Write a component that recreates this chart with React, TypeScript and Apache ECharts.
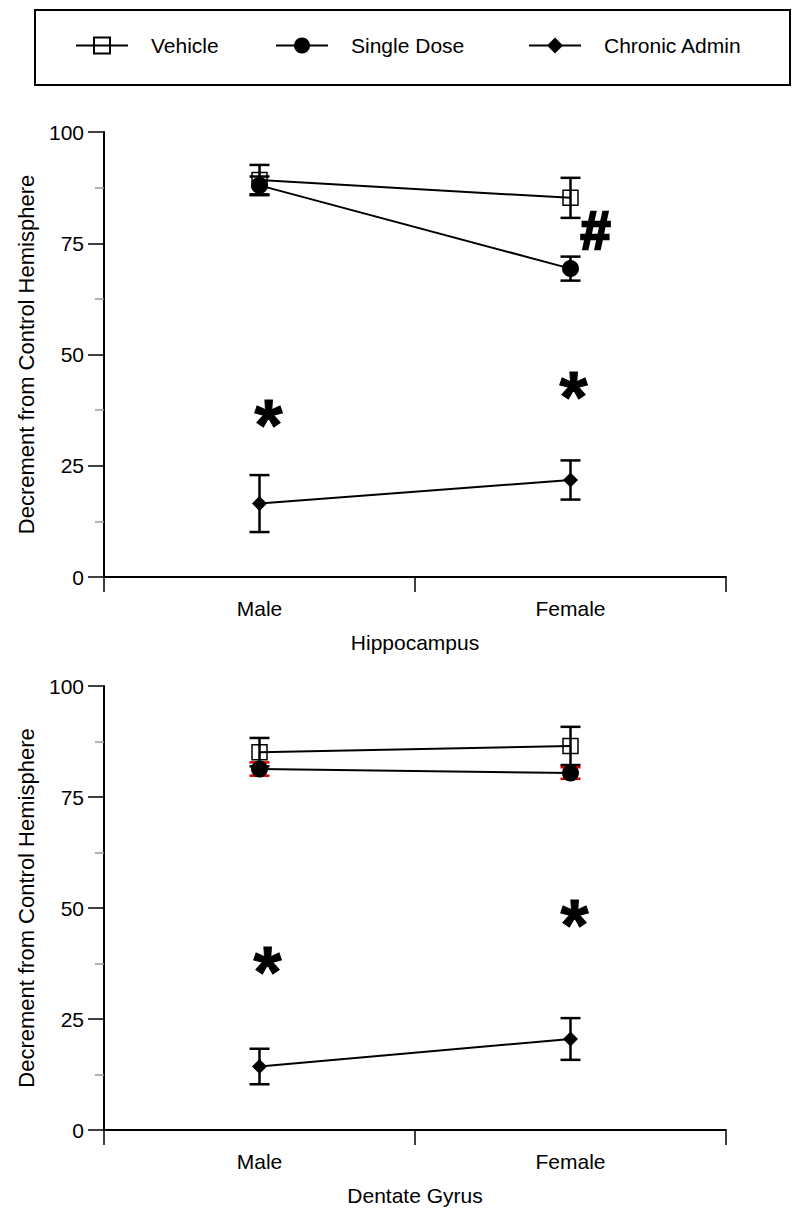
import React, { useEffect, useRef } from "react";
import * as echarts from "echarts";

const categories = ["Male", "Female"];
const seriesNames = ["Vehicle", "Single Dose", "Chronic Admin"];

// Hippocampus
const hipVehicle = [89.2, 85.2];
const hipVehicleErr = [3.4, 4.5];
const hipSingle = [88.0, 69.3];
const hipSingleErr = [2.0, 2.7];
const hipChronic = [16.5, 21.8];
const hipChronicErr = [6.4, 4.4];

// Dentate Gyrus
const dgVehicle = [85.1, 86.5];
const dgVehicleErr = [3.2, 4.3];
const dgSingle = [81.3, 80.4];
const dgSingleErr = [1.5, 1.3];
const dgChronic = [14.3, 20.5];
const dgChronicErr = [4.0, 4.7];

const yTicks = [0, 25, 50, 75, 100];

// significance marks: panel, category index, value, text
const annPanel = [0, 0, 0, 1, 1];
const annCategory = [0, 1, 1, 0, 1];
const annValue = [36.9, 43.1, 78.0, 38.3, 48.9];
const annText = ["*", "*", "#", "*", "*"];
// horizontal nudge of each mark (label style)
const annNudge = [9, 3, 25, 8, 4];

const FONT = "'Liberation Sans', Arial, Helvetica, sans-serif";

function errData(vals: number[], errs: number[]) {
  return vals.map((v, i) => [i, v - errs[i], v + errs[i]]);
}

function errSeries(grid: number, vals: number[], errs: number[], color: string) {
  return {
    type: "custom",
    xAxisIndex: grid,
    yAxisIndex: grid,
    z: 1,
    silent: true,
    data: errData(vals, errs),
    encode: { x: 0, y: [1, 2] },
    renderItem: (params: any, api: any) => {
      const x = api.value(0);
      const lo = api.value(1);
      const hi = api.value(2);
      const top = api.coord([x, hi]);
      const bot = api.coord([x, lo]);
      const w = 10;
      const st = { stroke: color, lineWidth: 2.5 };
      return {
        type: "group",
        children: [
          { type: "line", shape: { x1: top[0], y1: top[1], x2: bot[0], y2: bot[1] }, style: st },
          { type: "line", shape: { x1: top[0] - w, y1: top[1], x2: top[0] + w, y2: top[1] }, style: st },
          { type: "line", shape: { x1: bot[0] - w, y1: bot[1], x2: bot[0] + w, y2: bot[1] }, style: st },
        ],
      };
    },
  };
}

function annSeries(grid: number) {
  const data: any[] = [];
  annPanel.forEach((p, i) => {
    if (p === grid) data.push([annCategory[i], annValue[i], i]);
  });
  return {
    type: "custom",
    xAxisIndex: grid,
    yAxisIndex: grid,
    z: 10,
    silent: true,
    data,
    encode: { x: 0, y: 1 },
    renderItem: (params: any, api: any) => {
      const i = api.value(2);
      const pt = api.coord([api.value(0), api.value(1)]);
      const t = annText[i];
      const isStar = t === "*";
      const size = isStar ? 72 : 54;
      return {
        type: "text",
        x: pt[0] + annNudge[i],
        y: pt[1] + (isStar ? size * 0.17 : 0),
        style: {
          text: t,
          fill: "#000",
          stroke: "#000",
          lineWidth: isStar ? 1 : 2.5,
          font: `bold ${size}px ${FONT}`,
          align: "center",
          verticalAlign: "middle",
        },
      };
    },
  };
}

const symbols: any[] = [
  { symbol: "rect", symbolSize: 15, itemStyle: { color: "rgba(0,0,0,0)", borderColor: "#000", borderWidth: 1.5 } },
  { symbol: "circle", symbolSize: 17, itemStyle: { color: "#000" } },
  { symbol: "diamond", symbolSize: 15, itemStyle: { color: "#000" } },
];

function lineSeries(grid: number, idx: number, vals: number[]) {
  return {
    type: "line",
    name: seriesNames[idx],
    xAxisIndex: grid,
    yAxisIndex: grid,
    data: vals,
    z: 3,
    lineStyle: { color: "#000", width: 2 },
    ...symbols[idx],
  };
}

function xAxis(grid: number, name: string) {
  return {
    type: "category",
    gridIndex: grid,
    data: categories,
    boundaryGap: true,
    name,
    nameLocation: "middle",
    nameGap: 55,
    nameTextStyle: { color: "#000", fontSize: 21, fontFamily: FONT },
    axisLine: { lineStyle: { color: "#000", width: 2 } },
    axisTick: { show: true, length: 15, lineStyle: { color: "#000", width: 1.5 } },
    axisLabel: { color: "#000", fontSize: 21, fontFamily: FONT, margin: 21 },
  };
}

function yAxis(grid: number) {
  return {
    type: "value",
    gridIndex: grid,
    min: 0,
    max: 100,
    interval: 25,
    name: "Decrement from Control Hemisphere",
    nameLocation: "middle",
    nameGap: 67,
    nameRotate: 90,
    nameTextStyle: { color: "#000", fontSize: 22, fontFamily: FONT },
    axisLine: { show: true, lineStyle: { color: "#000", width: 2 } },
    axisTick: { show: true, length: 16, lineStyle: { color: "#000", width: 1.5 } },
    minorTick: { show: true, splitNumber: 2, length: 9, lineStyle: { color: "#999", width: 1.5 } },
    splitLine: { show: false },
    axisLabel: {
      color: "#000",
      fontSize: 21,
      fontFamily: FONT,
      margin: 20,
      formatter: (v: number) => (yTicks.includes(v) ? String(v) : ""),
    },
  };
}

function legendItem(name: string, left: number) {
  return {
    data: [name],
    left,
    top: 35,
    padding: 0,
    itemWidth: 52,
    itemHeight: 20,
    selectedMode: false,
    textStyle: { color: "#000", fontSize: 21, fontFamily: FONT, padding: [0, 0, 0, 18] },
  };
}

export default function App() {
  const ref = useRef<HTMLDivElement>(null);
  useEffect(() => {
    if (!ref.current) return;
    const chart = echarts.init(ref.current, undefined, { renderer: "svg" });
    chart.setOption({
      animation: false,
      backgroundColor: "#fff",
      graphic: [
        {
          type: "rect",
          shape: { x: 35, y: 10, width: 755, height: 75 },
          style: { fill: "none", stroke: "#000", lineWidth: 2 },
        },
      ],
      legend: [legendItem(seriesNames[0], 75), legendItem(seriesNames[1], 275), legendItem(seriesNames[2], 528)],
      grid: [
        { left: 104, top: 132, width: 622, height: 445 },
        { left: 104, top: 686, width: 622, height: 444 },
      ],
      xAxis: [xAxis(0, "Hippocampus"), xAxis(1, "Dentate Gyrus")],
      yAxis: [yAxis(0), yAxis(1)],
      series: [
        errSeries(0, hipVehicle, hipVehicleErr, "#000"),
        errSeries(0, hipSingle, hipSingleErr, "#000"),
        errSeries(0, hipChronic, hipChronicErr, "#000"),
        lineSeries(0, 0, hipVehicle),
        lineSeries(0, 1, hipSingle),
        lineSeries(0, 2, hipChronic),
        errSeries(1, dgVehicle, dgVehicleErr, "#000"),
        errSeries(1, dgSingle, dgSingleErr, "#e00000"),
        errSeries(1, dgChronic, dgChronicErr, "#000"),
        lineSeries(1, 0, dgVehicle),
        lineSeries(1, 1, dgSingle),
        lineSeries(1, 2, dgChronic),
        annSeries(0),
        annSeries(1),
      ],
    });
    return () => chart.dispose();
  }, []);
  return (
    <div
      ref={ref}
      style={{ position: "absolute", left: 0, top: 0, width: 800, height: 1213 }}
    />
  );
}
